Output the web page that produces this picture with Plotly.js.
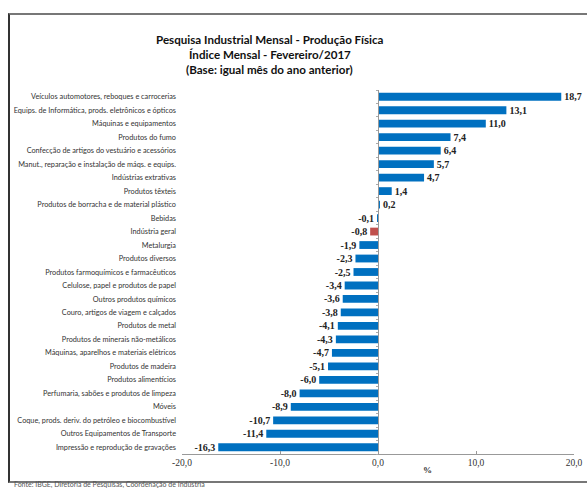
<!DOCTYPE html>
<html><head><meta charset="utf-8">
<script src="https://cdn.plot.ly/plotly-3.0.1.min.js"></script>
<style>
html,body{margin:0;padding:0;width:587px;height:489px;overflow:hidden;background:#fff;}
#chart{position:absolute;left:0;top:0;width:587px;height:489px;}
#frame{position:absolute;left:8px;top:13px;width:620px;height:466px;border-top:2px solid #777;border-left:2px solid #333;border-bottom:2px solid #777;pointer-events:none;}
#src{position:absolute;left:14px;top:481px;font:7px/7px Lato,"Liberation Sans",sans-serif;color:#555;white-space:nowrap;}
</style></head>
<body>
<div id="chart"></div>
<div id="frame"></div>
<div id="src">Fonte: IBGE, Diretoria de Pesquisas, Coordenação de Indústria</div>
<script>
const categories = [
 "Veículos automotores, reboques e carrocerias",
 "Equips. de Informática, prods. eletrônicos e ópticos",
 "Máquinas e equipamentos",
 "Produtos do fumo",
 "Confecção de artigos do vestuário e acessórios",
 "Manut., reparação e instalação de máqs. e equips.",
 "Indústrias extrativas",
 "Produtos têxteis",
 "Produtos de borracha e de material plástico",
 "Bebidas",
 "Indústria geral",
 "Metalurgia",
 "Produtos diversos",
 "Produtos farmoquímicos e farmacêuticos",
 "Celulose, papel e produtos de papel",
 "Outros produtos químicos",
 "Couro, artigos de viagem e calçados",
 "Produtos de metal",
 "Produtos de minerais não-metálicos",
 "Máquinas, aparelhos e materiais elétricos",
 "Produtos de madeira",
 "Produtos alimentícios",
 "Perfumaria, sabões e produtos de limpeza",
 "Móveis",
 "Coque, prods. deriv. do petróleo e biocombustível",
 "Outros Equipamentos de Transporte",
 "Impressão e reprodução de gravações"
];
const values = [18.7, 13.1, 11.0, 7.4, 6.4, 5.7, 4.7, 1.4, 0.2, -0.1, -0.8, -1.9, -2.3, -2.5, -3.4, -3.6, -3.8, -4.1, -4.3, -4.7, -5.1, -6.0, -8.0, -8.9, -10.7, -11.4, -16.3];
const highlight = "Indústria geral";
const xTicks = [-20, -10, 0, 10, 20];
const titleLines = [
 "Pesquisa Industrial Mensal - Produção Física",
 "Índice Mensal - Fevereiro/2017",
 "(Base: igual mês do ano anterior)"
];

const fmt = v => v.toFixed(1).replace(".", ",");
const BLUE = "#0070C0", RED = "#C0504D";
const colors = categories.map(c => c === highlight ? RED : BLUE);
const sans = 'Lato, "Liberation Sans", Arial, sans-serif';
const serif = '"Liberation Serif", "DejaVu Serif", serif';

const data = [
 {
  type: "bar", orientation: "h",
  x: values, y: categories,
  marker: {color: colors},
  text: values.map(fmt),
  textposition: "outside",
  constraintext: "none",
  cliponaxis: false,
  textfont: {family: serif, size: 10, color: "#222", weight: "bold"},
  hoverinfo: "skip"
 },
 {type: "scatter", x: [], y: [], yaxis: "y2", showlegend: false, hoverinfo: "skip"}
];

const titleY = [1.140, 1.097, 1.055];
const annotations = titleLines.map((t, i) => ({
 text: t, xref: "paper", yref: "paper", x: 0.224, y: titleY[i],
 xanchor: "center", yanchor: "middle", showarrow: false,
 font: {family: sans, size: 11.6, color: "#111", weight: "bold"}
}));
annotations.push({text: "%", xref: "paper", yref: "paper", x: 0.625, y: -0.045, xanchor: "center", yanchor: "middle",
 showarrow: false, font: {family: serif, size: 9, color: "#333", weight: "bold"}});

const layout = {
 width: 587, height: 489,
 margin: {l: 182, r: 13, t: 90, b: 35},
 paper_bgcolor: "#fff", plot_bgcolor: "#fff",
 showlegend: false,
 bargap: 0.42,
 xaxis: {
  range: [-20, 20], tickvals: xTicks, ticktext: xTicks.map(fmt),
  showgrid: false, zeroline: false,
  showline: true, linecolor: "#999", linewidth: 1,
  ticks: "inside", ticklen: 3, tickcolor: "#999",
  tickfont: {family: serif, size: 9.5, color: "#333"},
  fixedrange: true
 },
 yaxis: {
  type: "category", categoryarray: categories, autorange: "reversed",
  showgrid: false, zeroline: false, showline: false, ticks: "",
  ticklabelstandoff: 5,
  tickfont: {family: sans, size: 7.3, color: "#333"},
  fixedrange: true
 },
 yaxis2: {
  overlaying: "y", anchor: "free", position: 0.5, side: "left",
  range: [26.5, -0.5], tick0: -0.5, dtick: 1,
  showticklabels: false, showgrid: false, zeroline: false,
  showline: true, linecolor: "#999", linewidth: 1,
  ticks: "outside", ticklen: 2, tickcolor: "#aaa",
  fixedrange: true
 },
 annotations: annotations
};

Plotly.newPlot("chart", data, layout, {staticPlot: true, displayModeBar: false});
</script>
</body></html>
